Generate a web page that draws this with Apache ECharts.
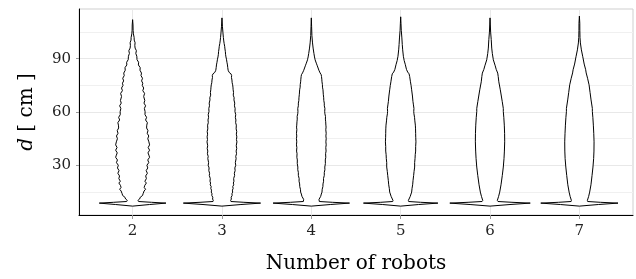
<!DOCTYPE html>
<html>
<head>
<meta charset="utf-8">
<script src="https://cdn.jsdelivr.net/npm/echarts@6/dist/echarts.min.js"></script>
<style>
  html, body { margin: 0; padding: 0; background: #fff; }
  #chart { width: 636px; height: 279px; }
</style>
</head>
<body>
<div id="chart"></div>
<script>
// number of robots (x categories)
const robots = [2, 3, 4, 5, 6, 7]
const yTicks = [30, 60, 90]
const yMinorTicks = [15, 45, 75, 105]

// violin profiles: [d (cm), density], bottom to top
const violin2 = [
  [7.0, 0], [7.9, 17], [8.7, 33.4], [9.15, 19], [9.6, 6], [10.2, 5.3], [11, 7], [12, 7.7],
  [13, 10], [14, 10.5], [15.5, 11.5], [16.5, 13], [17.5, 11.6], [18.7, 12.2], [20, 13.8],
  [21, 12.3], [22.5, 13.8], [24, 13.1], [25.5, 14.8], [27, 13.6], [28.5, 15.2], [30, 14.3],
  [31.5, 16.2], [33, 15.2], [34.5, 17], [35.7, 16.3], [37, 15.4], [38.5, 17], [40, 15.6],
  [41.5, 17], [43.2, 16.3], [45, 15.2], [46.5, 16.2], [48, 14.6], [49.5, 15.4], [51, 14],
  [52.6, 14.2], [54, 14.8], [55.5, 13], [57, 14], [58.5, 12.4], [60.2, 12.5], [62, 11.8],
  [63.5, 13], [65, 11.4], [66.5, 12.2], [68.7, 11.1], [70.5, 12], [72, 10.2], [73.5, 11.1],
  [75, 9.6], [76.2, 10.2], [77.5, 9], [79, 9.9], [80.5, 8.4], [81.9, 8.9], [83.5, 7.4],
  [85, 7.6], [86.5, 5.8], [88, 6], [89.5, 4.4], [91.4, 4.2], [93, 3.2], [94.5, 3.8],
  [96, 2.5], [97.5, 2.2], [99, 2.5], [100.5, 1.6], [102, 1.5], [104, 0.8], [106, 0.5],
  [109, 0.4], [112, 0]
]
const violin3 = [
  [7.0, 0], [7.9, 19], [8.7, 38.7], [9.15, 22], [9.6, 9], [10.2, 8.7], [11, 9.4], [12, 9.2],
  [13, 10.2], [14, 10], [14.9, 10.7], [16, 10.5], [17, 11.2], [18, 10.8], [19, 11.8],
  [20, 11.4], [21, 12], [22.5, 11.7], [24.3, 12.7], [25.5, 12.4], [27, 13.2], [28.5, 12.9],
  [30, 13.8], [31.5, 13.4], [33.8, 14.2], [35, 13.8], [36.5, 14.6], [38, 14.2], [39.5, 14.8],
  [41, 14.3], [43.2, 15], [44.5, 14.5], [46, 14.9], [47.5, 14.4], [49, 14.8], [50.5, 14.2],
  [52.6, 14.4], [54, 13.7], [55.5, 14], [57, 13.4], [58.5, 13.8], [60.2, 13], [62, 13.2],
  [63.5, 12.5], [65, 12.8], [66.8, 12], [68, 12.2], [69.5, 11.3], [71, 11.6], [72.5, 11.2],
  [74, 11], [75.3, 10.7], [76.5, 10.2], [78, 10], [79.5, 9.5], [80.5, 9.7], [81.5, 9],
  [82.3, 7.2], [83.5, 6.2], [85, 5.8], [86.5, 5.5], [88, 5], [89.4, 4.6], [91, 4], [92.5, 3.6],
  [94, 3.4], [95.5, 3], [97, 2.7], [98.5, 2.2], [100, 1.8], [102, 1.4], [104.5, 1], [108, 0.5],
  [113, 0]
]
const violin4 = [
  [7.0, 0], [7.9, 19], [8.7, 38.3], [9.15, 21], [9.6, 8], [10.8, 7.7], [12.5, 9.4], [13.8, 10],
  [14.9, 10.7], [16.5, 10.9], [18, 11.6], [19.5, 11.7], [21, 12.3], [22.5, 12.2], [24.3, 13],
  [26, 13], [27.5, 13.6], [29, 13.5], [31, 14.1], [33, 14], [34.5, 14.5], [36.5, 14.3],
  [38, 14.8], [40, 14.5], [41.5, 14.9], [43.2, 14.6], [45, 14.9], [46.5, 14.6], [48, 14.9],
  [50, 14.5], [51.5, 14.8], [52.6, 14.6], [54.5, 14.4], [56, 14.1], [57.5, 14.2], [59, 13.6],
  [60.2, 13.4], [62, 13.6], [63.5, 13], [65, 13], [66.5, 12.5], [68, 12.4], [70, 12],
  [72.5, 11.7], [74, 11.2], [75.5, 11.1], [77, 10.7], [78.5, 10.5], [80, 10.2], [81, 9.9],
  [82, 8.8], [83.5, 7.6], [86, 6], [87.5, 5], [89.4, 3.8], [91, 3.2], [93, 2.6],
  [96, 1.8], [98.9, 1.2], [103, 0.6], [108, 0.3], [113, 0]
]
const violin5 = [
  [7.0, 0], [7.9, 18], [8.7, 37.3], [9.15, 20], [9.6, 8], [10.2, 7.7], [12.5, 9.6], [14.9, 11],
  [17, 11.4], [19, 12], [21.5, 12.4], [24.3, 13], [26.5, 13.4], [29, 14], [31.5, 14],
  [33.8, 14.4], [36, 14.6], [38, 15], [40.5, 15], [43.2, 15.3], [45.5, 15.1], [48, 15],
  [50.5, 14.9], [52.6, 14.7], [55, 14.2], [57, 13.9], [59, 13.3], [60.2, 13.1], [62, 13.3],
  [64, 12.8], [66, 12.3], [69, 11.8], [72.5, 11], [75, 10.4], [77, 9.8], [80, 9], [81.5, 8.4],
  [82.5, 7], [84, 5.8], [86.6, 4.7], [89, 3.5], [91.4, 2.7], [95, 2], [98, 1.6],
  [101.7, 1.2], [106, 0.6], [110, 0.3], [113.6, 0]
]
const violin6 = [
  [7.0, 0], [7.9, 20], [8.7, 40.3], [9.15, 22], [9.6, 8], [10.2, 7.3], [12.5, 8.6], [14.9, 9.7],
  [19, 11], [24.3, 12.3], [29, 13.3], [33.8, 14], [38, 14.4], [43.2, 14.7], [48, 14.6],
  [52.6, 14.3], [57, 13.8], [60.2, 13.3], [62, 13.3], [66, 12.2], [72.5, 10.3], [77, 8.8],
  [80, 8.2], [81.9, 7.7], [84, 6.2], [86, 5.2], [89.4, 3.3], [93, 2.3], [96, 1.7],
  [100.8, 1.2], [105, 0.6], [109, 0.3], [113, 0]
]
const violin7 = [
  [7.0, 0], [7.9, 19], [8.7, 38.7], [9.15, 21], [9.6, 8.3], [10.2, 8], [12.5, 9.3], [14.9, 10.3],
  [19, 11.6], [24.3, 12.7], [29, 13.6], [33.8, 14.3], [38, 14.6], [43.2, 14.7], [48, 14.4],
  [52.6, 14], [57, 13.5], [60.2, 13], [62, 13], [66.8, 11.7], [71, 10.7], [75.3, 9.7],
  [79, 8.2], [82, 6.8], [83.8, 6.3], [87, 4.8], [91.4, 3.3], [95, 2], [98.9, 1], [102, 0.6],
  [106, 0.45], [110, 0.4], [114, 0]
]
const violins = [violin2, violin3, violin4, violin5, violin6, violin7]

// density -> half width in x-axis units (widest violin = 0.45)
const WIDTH_SCALE = 0.45 / 40.3
const FONT = '"DejaVu Serif", serif'

const chart = echarts.init(document.getElementById('chart'))

const renderViolin = (params, api) => {
  const idx = params.dataIndex
  const x = robots[idx]
  const prof = violins[idx]
  const right = prof.map(([d, w]) => api.coord([x + w * WIDTH_SCALE, d]))
  const left = prof.slice().reverse().map(([d, w]) => api.coord([x - w * WIDTH_SCALE, d]))
  return {
    type: 'polygon',
    shape: { points: right.concat(left) },
    style: { fill: '#fff', stroke: '#000', lineWidth: 1 },
  }
}

chart.setOption({
  animation: false,
  backgroundColor: '#fff',
  grid: {
    left: 79, right: 3, top: 9, bottom: 63,
    show: true, borderColor: '#cfcfcf', borderWidth: 1,
  },
  xAxis: {
    type: 'value',
    min: 1.4,
    max: 7.6,
    name: 'Number of robots',
    nameLocation: 'middle',
    nameGap: 39,
    nameTextStyle: { fontFamily: FONT, fontSize: 20, color: '#000' },
    axisLine: { show: true, onZero: false, lineStyle: { color: '#000', width: 1 } },
    axisTick: { show: true, length: 4, customValues: robots, lineStyle: { color: '#999' } },
    axisLabel: {
      customValues: robots, margin: 9,
      fontFamily: FONT, fontSize: 15, color: '#222',
    },
    splitLine: { show: true, lineStyle: { color: '#e8e8e8', width: 1 } },
  },
  yAxis: [
    {
      type: 'value',
      min: 2,
      max: 118,
      name: '{i|d} [ cm ]',
      nameLocation: 'middle',
      nameGap: 42,
      nameTextStyle: {
        fontFamily: FONT, fontSize: 20, color: '#000',
        rich: { i: { fontFamily: FONT, fontSize: 20, fontStyle: 'italic', color: '#000' } },
      },
      axisLine: { show: true, onZero: false, lineStyle: { color: '#000', width: 1 } },
      axisTick: { show: true, length: 3, customValues: yTicks, lineStyle: { color: '#999' } },
      axisLabel: {
        customValues: yTicks, margin: 8,
        fontFamily: FONT, fontSize: 15, color: '#222',
      },
      splitLine: { show: true, lineStyle: { color: '#e8e8e8', width: 1 } },
    },
    {
      type: 'value',
      min: 2,
      max: 118,
      position: 'left',
      axisLine: { show: false },
      axisTick: { show: false, customValues: yMinorTicks },
      axisLabel: { show: false, customValues: yMinorTicks },
      splitLine: { show: true, lineStyle: { color: '#f0f0f0', width: 1 } },
    },
  ],
  series: [
    {
      type: 'custom',
      renderItem: renderViolin,
      data: robots.map((r) => [r, 60]),
      z: 5,
    },
  ],
})
</script>
</body>
</html>
